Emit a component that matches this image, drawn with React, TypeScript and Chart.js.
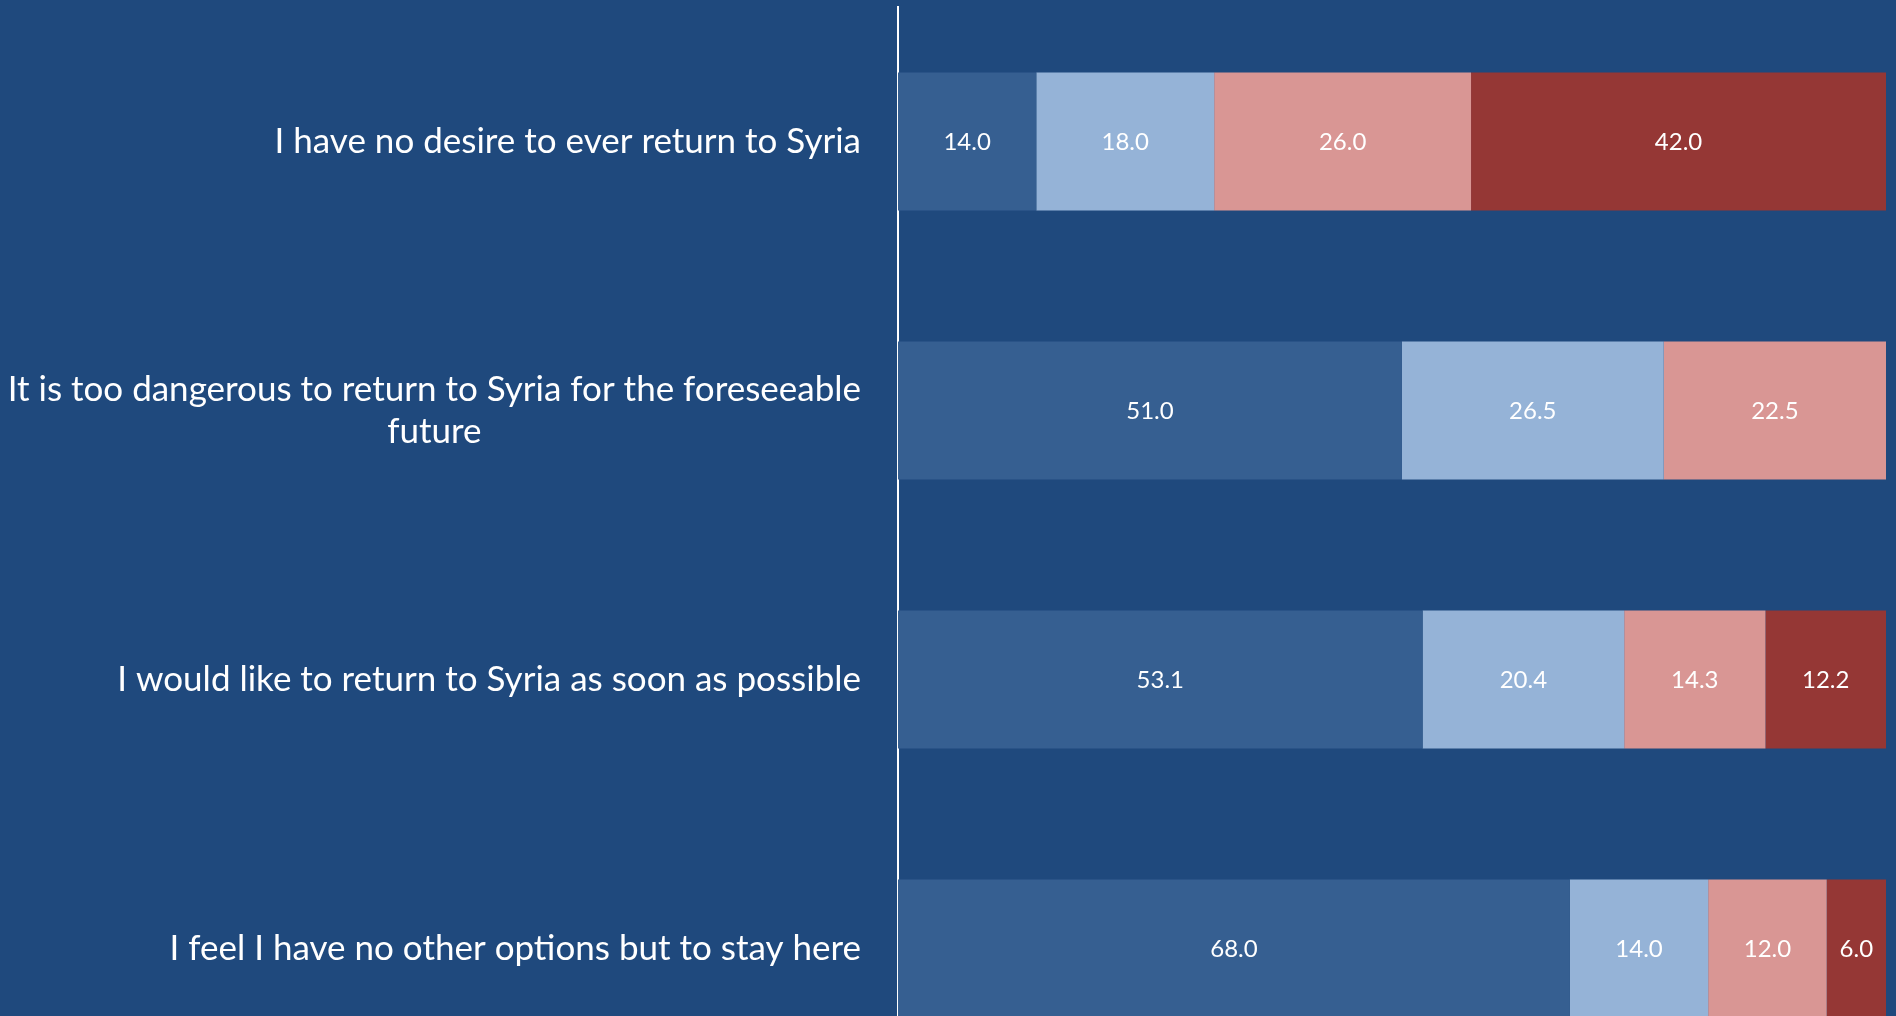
import React, { useEffect, useRef } from "react";
import { Chart, registerables } from "chart.js";

Chart.register(...registerables);

const categories: (string | string[])[] = [
  "I have no desire to ever return to Syria",
  ["It is too dangerous to return to Syria for the foreseeable", "future"],
  "I would like to return to Syria as soon as possible",
  "I feel I have no other options but to stay here",
];

const seriesNames = ["Strongly disagree", "Disagree", "Agree", "Strongly agree"];
const series1 = [14.0, 51.0, 53.1, 68.0];
const series2 = [18.0, 26.5, 20.4, 14.0];
const series3 = [26.0, 22.5, 14.3, 12.0];
const series4 = [42.0, 0, 12.2, 6.0];
const seriesColors = ["#365F91", "#95B3D7", "#D99694", "#953735"];

const BG = "#1F497D";
const FONT = "Lato, 'Open Sans', sans-serif";

const labelPlugin = {
  id: "customLabels",
  afterDraw(chart: any) {
    const ctx = chart.ctx;
    const yScale = chart.scales.y;
    const area = chart.chartArea;
    ctx.save();
    ctx.fillStyle = "#FFFFFF";
    ctx.font = `35px ${FONT}`;
    ctx.textBaseline = "middle";
    ctx.textAlign = "center";
    const right = area.left - 37;
    const lineH = 42;
    categories.forEach((cat, i) => {
      const lines = Array.isArray(cat) ? cat : [cat];
      const widths = lines.map((l) => ctx.measureText(l).width);
      const maxW = Math.max(...widths);
      const cx = right - maxW / 2;
      const cy = yScale.getPixelForValue(i);
      const startY = cy - ((lines.length - 1) * lineH) / 2;
      lines.forEach((l, j) => ctx.fillText(l, cx, startY + j * lineH));
    });
    // data labels
    ctx.font = `24px ${FONT}`;
    chart.data.datasets.forEach((ds: any, di: number) => {
      const meta = chart.getDatasetMeta(di);
      meta.data.forEach((el: any, i: number) => {
        const v = ds.data[i];
        if (!v) return;
        const p = el.getCenterPoint();
        ctx.fillText(v.toFixed(1), p.x, p.y + 1);
      });
    });
    ctx.restore();
  },
};

export default function App() {
  const ref = useRef<HTMLCanvasElement | null>(null);
  useEffect(() => {
    if (!ref.current) return;
    const data = [series1, series2, series3, series4];
    const chart = new Chart(ref.current, {
      type: "bar",
      data: {
        labels: categories.map((c) => (Array.isArray(c) ? c.join(" ") : c)),
        datasets: data.map((d, i) => ({
          label: seriesNames[i],
          data: d,
          backgroundColor: seriesColors[i],
          borderWidth: 0,
          barPercentage: 0.513,
          categoryPercentage: 1,
        })),
      },
      options: {
        indexAxis: "y",
        animation: false,
        responsive: false,
        maintainAspectRatio: false,
        layout: { padding: { top: 7, bottom: 7, right: 10, left: 0 } },
        plugins: {
          legend: { display: false },
          tooltip: { enabled: false },
        },
        scales: {
          x: {
            stacked: true,
            min: 0,
            max: 100,
            display: false,
          },
          y: {
            stacked: true,
            grid: { display: false, drawTicks: false },
            ticks: { display: false },
            border: { display: true, color: "#FFFFFF", width: 2 },
            afterFit(scale: any) {
              scale.width = 898;
            },
          },
        },
      },
      plugins: [labelPlugin],
    });
    return () => chart.destroy();
  }, []);
  return (
    <div
      style={{
        position: "fixed",
        left: 0,
        top: 0,
        width: 1896,
        height: 1016,
        overflow: "hidden",
        background: BG,
      }}
    >
      <canvas ref={ref} width={1896} height={1090} style={{ display: "block" }} />
    </div>
  );
}
